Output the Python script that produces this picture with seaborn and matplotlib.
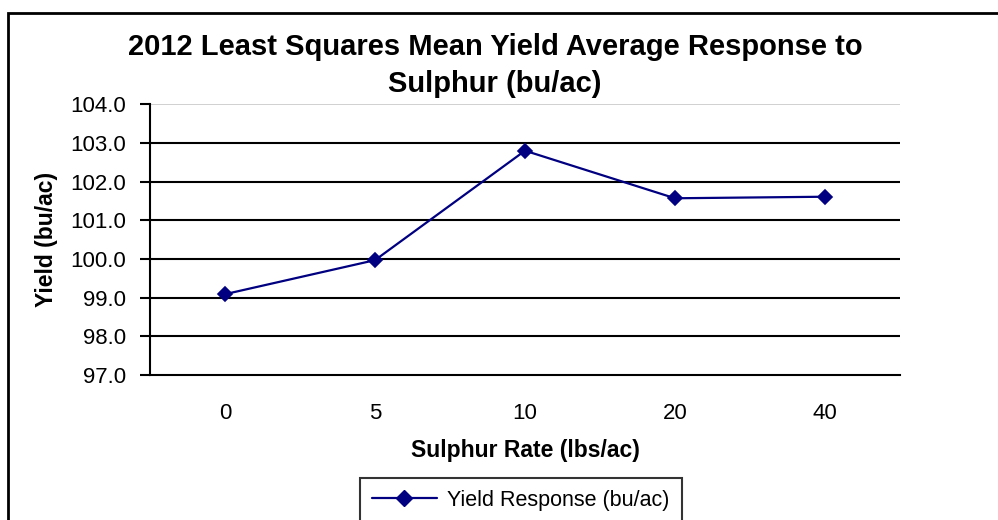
import matplotlib
matplotlib.use("Agg")
import matplotlib.pyplot as plt
import seaborn as sns
import pandas as pd
from matplotlib.patches import Rectangle
from matplotlib.lines import Line2D

rates = ["0", "5", "10", "20", "40"]
yields = [99.09, 99.97, 102.80, 101.57, 101.61]
yticks = [97, 98, 99, 100, 101, 102, 103, 104]
series_name = "Yield Response (bu/ac)"

sns.set_theme(style="white")
plt.rcParams["font.family"] = ["Liberation Sans", "DejaVu Sans"]
plt.rcParams["text.color"] = "black"
plt.rcParams["axes.labelcolor"] = "black"
plt.rcParams["xtick.color"] = "black"
plt.rcParams["ytick.color"] = "black"

df = pd.DataFrame({"rate": rates, "yield": yields})

fig = plt.figure(figsize=(9.98, 5.2), dpi=100)
W, H = 998, 520
ax = fig.add_axes([150 / W, 1 - 375 / H, 750 / W, (375 - 104.3) / H])

color = "#000080"
sns.pointplot(data=df, x="rate", y="yield", ax=ax, color=color, markers="D",
              linestyles="-", errorbar=None, markersize=7, linewidth=1.6)

ax.set_xlim(-0.5, 4.5)
ax.set_ylim(97, 104)
ax.set_yticks(yticks)
ax.set_yticklabels([f"{v:.1f}" for v in yticks], fontsize=16)
for v in yticks[1:-1]:
    ax.axhline(v, color="black", lw=1.5, zorder=0)
ax.axhline(104, color="#c8c8c8", lw=1.2, zorder=0)

ax.set_xticks(range(len(rates)))
ax.set_xticklabels(rates, fontsize=16)
ax.tick_params(axis="x", length=0, pad=20)
ax.set_xticks([i - 0.5 for i in range(len(rates) + 1)], minor=True)
ax.tick_params(axis="x", which="minor", length=6, width=1.5, color="black", direction="out")
ax.tick_params(axis="y", length=7, width=1.5, color="black", direction="out", pad=10, left=True)

for s in ["top", "right"]:
    ax.spines[s].set_visible(False)
for s in ["left", "bottom"]:
    ax.spines[s].set_color("black")
    ax.spines[s].set_linewidth(1.5)

ax.set_xlabel("Sulphur Rate (lbs/ac)", fontsize=16.5, fontweight="bold", labelpad=11)
ax.set_ylabel("Yield (bu/ac)", fontsize=16.5, fontweight="bold", labelpad=9)

fig.text(495 / W, 1 - 65.5 / H, "2012 Least Squares Mean Yield Average Response to\nSulphur (bu/ac)",
         ha="center", va="center", fontsize=21, fontweight="bold", linespacing=1.45)

handle = Line2D([], [], color=color, marker="D", markersize=8, lw=1.6)
leg = fig.legend([handle], [series_name], loc="upper center", bbox_to_anchor=(521 / W, 1 - 478 / H),
                 fontsize=15.5, frameon=True, fancybox=False, edgecolor="black",
                 handlelength=3.0, borderpad=0.55, handletextpad=0.5, borderaxespad=0)
leg.get_frame().set_linewidth(1.5)

fig.patches.append(Rectangle((8 / W, -0.1), 1.2, (1 - 13 / H) + 0.1, transform=fig.transFigure,
                             fill=False, edgecolor="black", lw=2))

fig.savefig("out.png", dpi=100)
